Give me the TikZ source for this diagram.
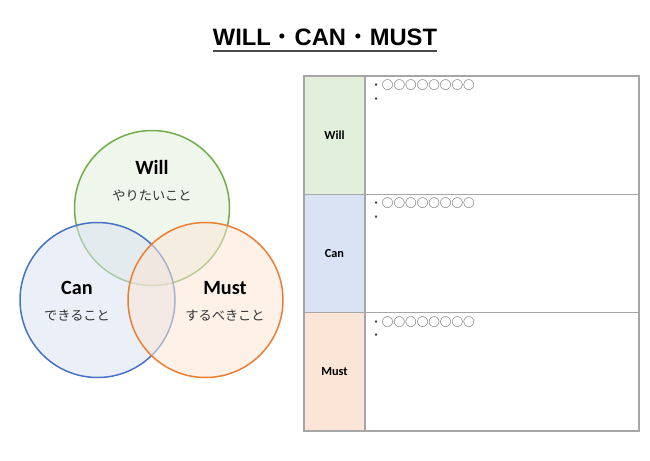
\documentclass[tikz,border=0pt]{standalone}
\usepackage{fontspec}
\newfontfamily\jpfont{Noto Sans CJK JP}
\newfontfamily\calfont{Carlito}
\newfontfamily\arialfont{Liberation Sans}
\usetikzlibrary{
	positioning
}
\definecolor{willline}{HTML}{70AD47}
\definecolor{canline}{HTML}{4472C4}
\definecolor{mustline}{HTML}{ED7D31}
\definecolor{willfill}{HTML}{E2EFDA}
\definecolor{canfill}{HTML}{DAE3F3}
\definecolor{mustfill}{HTML}{FBE5D6}
\definecolor{gridline}{HTML}{A6A6A6}

\begin{document}
\begin{tikzpicture}[
				venn/.style={circle, line width=0.85pt, fill opacity=0.55, minimum size=3.1cm, inner sep=0pt},
				head/.style={font=\calfont\bfseries\fontsize{11.5}{13}\selectfont, inner sep=0pt},
				sub/.style={font=\jpfont\fontsize{7.5}{9}\selectfont, text=black!80, inner sep=0pt},
				labcell/.style={draw=gridline, line width=0.8pt, minimum width=1.22cm, minimum height=2.367cm, inner sep=0pt, outer sep=0pt, font=\calfont\bfseries\fontsize{7}{8}\selectfont},
				txtcell/.style={draw=gridline, line width=0.8pt, minimum width=5.48cm, minimum height=2.367cm, inner sep=0pt, outer sep=0pt},
				item/.style={font=\jpfont\fontsize{6.6}{8}\selectfont, text=black!75, inner sep=0pt, anchor=north west}
			]
				\useasboundingbox (0,0) rectangle (13,9.2);
				% タイトル
				\node[inner sep=0pt, font=\fontsize{13.5}{16}\selectfont] (title) at (6.5,8.45)
					{\arialfont\bfseries WILL\jpfont\mdseries ・\arialfont\bfseries CAN\jpfont\mdseries ・\arialfont\bfseries MUST};
				\draw[line width=1.1pt, black!70] ([yshift=-2.5pt]title.south west) -- ([yshift=-2.5pt]title.south east);
				% 円
				\node[venn, draw=willline, fill=willfill] (willc) at (3.04,5.04) {};
				\node[venn, draw=canline, fill=canfill]   (canc)  at (1.95,3.2) {};
				\node[venn, draw=mustline, fill=mustfill] (mustc) at (4.11,3.2) {};
				% 円の文字
				\node[head] (willhead) at (3.04,5.86) {Will};
				\node[sub, below=0.3cm of willhead] (willsub) {やりたいこと};
				\node[head] (canhead) at (1.54,3.44) {Can};
				\node[sub, below=0.3cm of canhead] (cansub) {できること};
				\node[head] (musthead) at (4.5,3.44) {Must};
				\node[sub, below=0.3cm of musthead] (mustsub) {するべきこと};
				% 表
				\node[labcell, fill=willfill, anchor=north west] (willlab) at (6.08,7.68) {Will};
				\node[labcell, fill=canfill, below=0pt of willlab] (canlab) {Can};
				\node[labcell, fill=mustfill, below=0pt of canlab] (mustlab) {Must};
				\node[txtcell, right=0pt of willlab] (willtxt) {};
				\node[txtcell, right=0pt of canlab] (cantxt) {};
				\node[txtcell, right=0pt of mustlab] (musttxt) {};
				% 表の文字
				\foreach \row in {willtxt, cantxt, musttxt} {
					\node[item] (\row-a) at ([xshift=0.1cm, yshift=-0.07cm]\row.north west) {・○○○○○○○○};
					\node[item, below=0.13cm of \row-a.south west, anchor=north west] (\row-b) {・};
				}
			\end{tikzpicture}
\end{document}
